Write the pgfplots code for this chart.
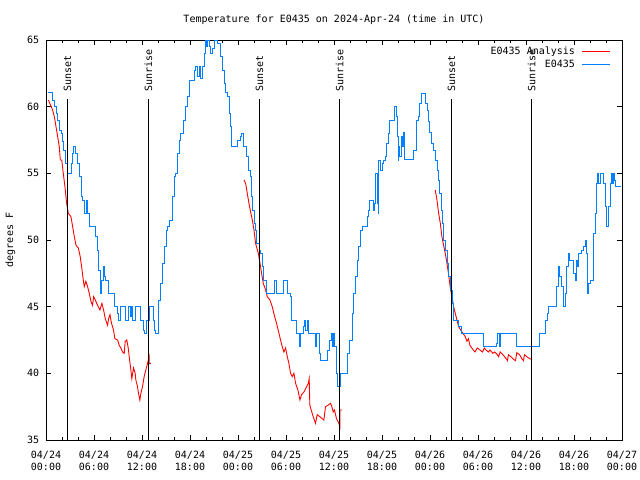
\documentclass[border=0pt]{standalone}
\usepackage{pgfplots}
\pgfplotsset{compat=1.18}
\usepackage{fontspec}
\setmainfont{DejaVu Sans Mono}
\definecolor{obsblue}{RGB}{0,128,255}
\definecolor{anared}{RGB}{255,0,0}
\begin{document}
\begin{tikzpicture}[font=\fontsize{10bp}{12bp}\selectfont]
\path[use as bounding box] (-46bp,-40bp) rectangle (594bp,440bp);
\begin{axis}[
  at={(0,0)}, anchor=south west,
  scale only axis, width=576bp, height=400bp,
  xmin=0, xmax=72, ymin=35, ymax=65,
  xtick={0,6,...,72},
  xticklabels={{04/24\\00:00},{04/24\\06:00},{04/24\\12:00},{04/24\\18:00},{04/25\\00:00},{04/25\\06:00},{04/25\\12:00},{04/25\\18:00},{04/26\\00:00},{04/26\\06:00},{04/26\\12:00},{04/26\\18:00},{04/27\\00:00}},
  xticklabel style={align=center, font=\fontsize{10bp}{11.7bp}\selectfont, yshift=-8bp},
  minor x tick num=2,
  ytick={35,40,...,65},
  yticklabel style={xshift=-3.4bp},
  tick align=inside,
  major tick length=5bp, minor tick length=3bp,
  tick style={black, line width=0.6bp},
  axis line style={line width=0.8bp},
  /pgf/number format/assume math mode=true,
  title={Temperature for E0435 on 2024-Apr-24 (time in UTC)},
  title style={at={(axis description cs:0.5,1.05)}, anchor=center, yshift=-6pt},
  ylabel={degrees F},
  ylabel style={at={(axis description cs:-0.0616,0.5)}, anchor=center},
  legend style={draw=none, fill=none, at={(axis description cs:1,1)}, anchor=north east, xshift=-8bp, yshift=-3bp, row sep=-0.5bp, column sep=5bp},
  legend cell align=right, legend plot pos=right,
  legend image code/.code={\draw[#1] (0bp,0bp) -- (28bp,0bp);},
  unbounded coords=jump,
]
\addlegendimage{draw=anared, color=anared, line width=0.9bp}
\addlegendentry{E0435 Analysis}
\addlegendimage{draw=obsblue, color=obsblue, line width=0.9bp}
\addlegendentry{E0435}
% Analysis (red)
\addplot[anared, line width=0.9bp, forget plot] coordinates {
(0.3,60.5)(0.83,59.75)(1.04,59.25)(1.25,58.5)(1.46,57.75)(1.66,57.0)(1.79,56.0)(1.97,56.0)(2.16,55.0)(2.37,54.0)(2.58,52.75)(2.79,52.0)(3.12,51.75)(3.33,51.0)(3.54,50.25)(3.75,49.6)(4.04,49.4)(4.28,48.75)(4.45,48.0)(4.66,47.0)(4.78,46.5)(4.98,46.9)(5.2,46.5)(5.41,46.0)(5.62,45.4)(5.82,45.1)(5.95,45.75)(6.16,45.5)(6.45,45.1)(6.74,44.75)(6.99,45.25)(7.2,44.75)(7.41,44.1)(7.7,43.6)(7.82,44.1)(8.0,44.4)(8.19,43.75)(8.44,43.25)(8.61,42.6)(8.95,42.5)(9.15,42.1)(9.36,41.9)(9.57,41.6)(9.78,41.5)(9.9,42.4)(10.1,42.5)(10.28,41.9)(10.4,41.25)(10.61,40.25)(10.73,39.6)(10.94,40.4)(11.15,40.0)(11.23,39.5)(11.44,39.0)(11.56,38.5)(11.73,38.0)(11.86,38.5)(12.06,39.0)(12.27,39.75)(12.48,40.25)(12.69,40.75)(12.9,41.25)(12.9,40.75)(13.1,40.75)
(13.5,nan)
(24.75,54.5)(24.95,54.25)(25.16,53.5)(25.37,52.75)(25.58,52.1)(25.79,51.5)(26.0,50.75)(26.2,49.75)(26.54,49.0)(26.75,48.25)(26.95,47.5)(27.16,46.75)(27.45,46.25)(27.66,45.75)(27.99,45.5)(28.28,45.0)(28.58,44.25)(28.82,43.75)(29.12,43.0)(29.32,42.5)(29.53,42.0)(29.74,41.6)(29.95,41.9)(30.16,41.25)(30.36,40.75)(30.57,40.0)(30.78,39.75)(30.99,40.0)(31.2,39.25)(31.49,38.75)(31.74,38.0)(31.94,38.4)(32.24,38.6)(32.57,39.0)(32.78,39.25)(32.9,39.6)(32.98,37.6)(33.15,37.25)(33.4,36.75)(33.61,36.4)(33.69,36.25)(33.9,36.9)(34.23,36.75)(34.52,36.6)(34.73,36.5)(34.94,37.5)(35.23,37.6)(35.56,37.75)(35.69,37.6)(35.9,37.1)(36.06,37.25)(36.31,36.6)(36.6,36.25)(36.73,36.0)(36.73,37.25)(37.02,37.25)
(37.5,nan)
(48.66,53.75)(48.87,53.0)(49.08,52.0)(49.29,51.25)(49.49,50.25)(49.7,49.6)(49.91,49.0)(50.12,48.25)(50.33,47.4)(50.54,46.4)(50.75,45.75)(50.95,45.0)(51.16,44.5)(51.37,44.0)(51.58,43.5)(51.99,43.1)(52.41,42.75)(52.62,42.4)(52.8,42.6)(52.99,42.1)(53.41,41.75)(53.62,41.6)(53.91,41.9)(54.24,41.75)(54.57,41.6)(54.78,41.9)(55.0,41.75)(55.3,41.6)(55.5,41.75)(55.86,41.5)(56.1,41.6)(56.36,41.45)(56.57,41.25)(56.77,41.6)(57.11,41.4)(57.52,41.1)(57.69,40.95)(57.8,41.4)(58.11,41.25)(58.44,41.05)(58.69,40.95)(58.85,41.55)(59.19,41.4)(59.48,41.1)(59.69,40.95)(59.8,41.4)(60.11,41.25)(60.44,41.1)(60.77,41.05)
};
% Observations (blue)
\addplot[obsblue, line width=0.9bp, const plot, forget plot] coordinates {
(0.2,61.1)(0.83,60.5)(1.04,60.0)(1.25,59.5)(1.46,59.0)(1.66,58.25)(1.87,58.0)(2.08,57.4)(2.2,56.75)(2.37,55.75)(2.62,55.0)(3.2,55.75)(3.3,56.5)(3.41,57.0)(3.62,56.5)(3.87,55.75)(4.16,54.75)(4.37,53.25)(4.58,53.0)(4.78,52.0)(5.0,53.0)(5.2,52.0)(5.41,51.0)(6.24,50.25)(6.45,49.25)(6.6,47.75)(6.78,46.0)(6.95,47.0)(7.16,48.0)(7.3,47.25)(7.49,47.0)(7.78,46.0)(8.53,45.0)(8.95,44.5)(9.1,44.0)(9.36,45.0)(9.99,44.0)(10.28,45.0)(10.5,44.25)(10.69,45.0)(10.8,44.0)(11.15,45.0)(11.86,44.0)(12.19,43.25)(12.35,43.0)(12.6,44.0)(12.9,45.0)(13.44,44.0)(13.6,43.25)(13.73,43.0)(14.02,45.5)(14.27,46.75)(14.56,48.25)(14.85,49.5)(15.1,50.75)(15.18,51.0)(15.39,51.5)(15.8,53.25)(16.01,54.75)(16.22,55.0)(16.43,56.5)(16.64,57.5)(16.85,58.0)(17.18,59.0)(17.39,60.0)(17.68,60.75)(17.89,62.0)(18.51,62.75)(18.72,63.0)(18.9,62.25)(19.13,63.0)(19.34,62.1)(19.55,63.0)(19.76,64.0)(19.88,65.0)(20.1,64.5)(20.2,65.0)(20.4,64.5)(20.6,64.0)(20.8,64.4)(21.01,65.0)(21.43,64.75)(21.84,63.75)(22.05,62.75)(22.26,61.75)(22.47,61.1)(22.67,60.75)(22.88,59.5)(23.05,58.5)(23.12,57.0)(23.92,57.5)(24.25,57.75)(24.46,58.0)(24.66,57.0)(25.08,56.25)(25.29,55.25)(25.5,54.75)(25.66,53.25)(25.8,52.25)(26.0,51.25)(26.2,50.75)(26.33,49.75)(26.62,49.25)(26.83,49.0)(27.04,48.0)(27.24,47.0)(27.58,46.0)(28.58,47.0)(28.83,46.0)(29.67,47.0)(30.17,46.0)(30.5,45.75)(30.67,44.0)(31.33,43.0)(31.74,42.0)(31.85,43.0)(32.15,43.5)(32.32,44.0)(32.45,43.25)(32.65,44.0)(32.86,43.0)(33.69,42.0)(33.8,43.0)(34.23,41.5)(34.32,41.0)(35.23,41.75)(35.48,42.5)(35.65,43.0)(35.8,42.0)(35.9,43.0)(36.05,42.0)(36.31,40.0)(36.4,39.0)(36.81,40.0)(37.65,41.5)(37.98,42.5)(38.27,44.5)(38.47,46.0)(38.68,47.25)(38.89,48.5)(39.1,49.5)(39.31,50.75)(39.51,51.05)(40.14,51.75)(40.35,52.25)(40.47,53.0)(40.89,52.25)(41.05,52.75)(41.18,55.0)(41.39,52.75)(41.51,52.0)(41.6,56.0)(41.8,55.25)(42.01,55.75)(42.22,56.0)(42.43,56.25)(42.55,57.25)(42.76,58.0)(42.97,59.0)(43.59,60.0)(43.76,59.25)(43.88,57.75)(44.01,56.0)(44.09,57.0)(44.21,56.25)(44.38,57.75)(44.5,57.0)(44.63,58.1)(44.76,56.05)(45.96,56.75)(46.29,59.0)(46.5,59.25)(46.67,60.25)(46.88,61.0)(47.42,60.25)(47.62,59.75)(47.75,58.9)(47.92,58.1)(48.12,57.25)(48.37,56.75)(48.67,56.0)(48.87,55.25)(49.08,54.5)(49.2,53.5)(49.37,52.25)(49.54,51.25)(49.7,50.0)(49.91,49.25)(50.12,48.25)(50.33,47.25)(50.54,46.25)(50.75,45.25)(50.95,44.0)(51.58,43.5)(51.87,43.0)(54.7,42.0)(56.28,42.25)(56.48,43.0)(56.64,42.0)(56.77,43.0)(58.77,42.0)(61.68,43.0)(62.39,44.0)(62.68,44.5)(62.85,45.0)(63.85,46.5)(64.06,48.0)(64.2,47.25)(64.47,46.5)(64.69,45.0)(64.9,46.0)(65.1,48.0)(65.31,49.0)(65.4,48.5)(65.93,47.5)(66.14,47.0)(66.35,48.5)(66.45,48.0)(66.6,49.0)(66.97,49.25)(67.18,49.5)(67.39,50.0)(67.5,49.0)(67.68,46.0)(67.75,46.75)(68.0,47.0)(68.42,50.5)(68.63,52.0)(68.76,54.25)(68.9,55.0)(69.1,54.25)(69.3,55.0)(69.7,54.25)(69.9,52.5)(70.08,51.0)(70.3,52.5)(70.5,54.25)(70.7,55.0)(70.85,54.25)(70.96,55.0)(71.05,54.5)(71.12,54.0)(71.9,54.0)
};
% Sunset / sunrise markers
\addplot[black, line width=0.8bp, forget plot] coordinates {(2.68,35)(2.68,60.57)};
\addplot[black, line width=0.8bp, forget plot] coordinates {(12.8,35)(12.8,60.57)};
\addplot[black, line width=0.8bp, forget plot] coordinates {(26.68,35)(26.68,60.57)};
\addplot[black, line width=0.8bp, forget plot] coordinates {(36.72,35)(36.72,60.57)};
\addplot[black, line width=0.8bp, forget plot] coordinates {(50.7,35)(50.7,60.57)};
\addplot[black, line width=0.8bp, forget plot] coordinates {(60.72,35)(60.72,60.57)};
\node[rotate=90, anchor=west, inner sep=0pt] at (axis cs:2.68,61.1) {Sunset};
\node[rotate=90, anchor=west, inner sep=0pt] at (axis cs:12.8,61.1) {Sunrise};
\node[rotate=90, anchor=west, inner sep=0pt] at (axis cs:26.68,61.1) {Sunset};
\node[rotate=90, anchor=west, inner sep=0pt] at (axis cs:36.72,61.1) {Sunrise};
\node[rotate=90, anchor=west, inner sep=0pt] at (axis cs:50.7,61.1) {Sunset};
\node[rotate=90, anchor=west, inner sep=0pt] at (axis cs:60.72,61.1) {Sunrise};
\end{axis}
\end{tikzpicture}
\end{document}
